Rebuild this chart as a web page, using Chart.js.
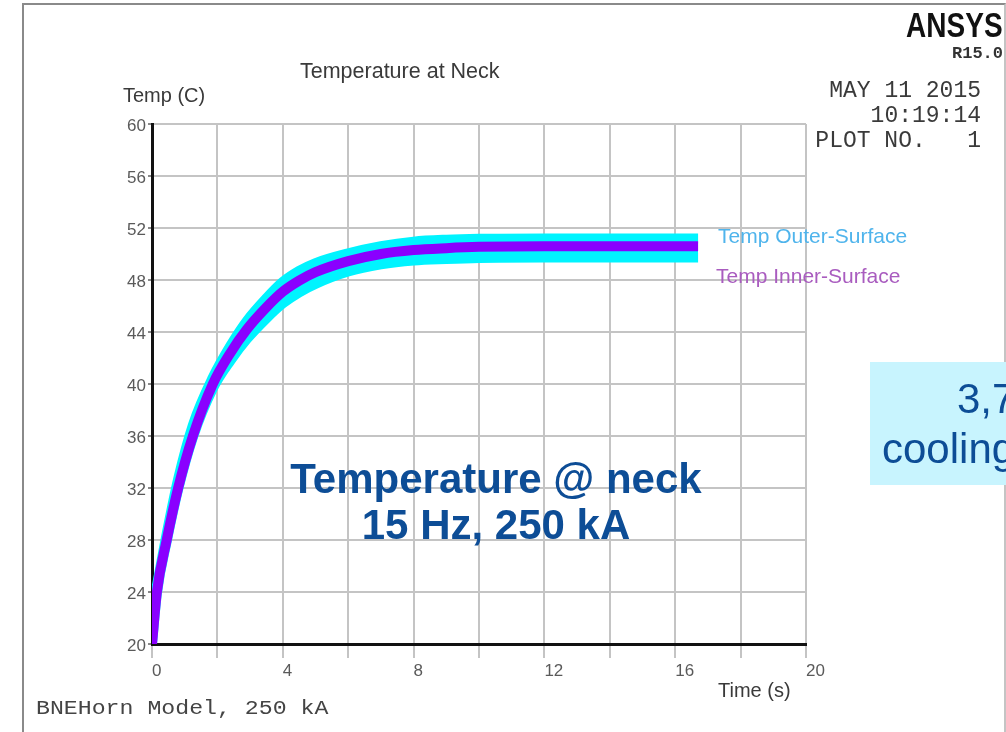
<!DOCTYPE html>
<html>
<head>
<meta charset="utf-8">
<script src="https://cdn.jsdelivr.net/npm/chart.js@4.4.1/dist/chart.umd.min.js"></script>
<style>
html,body{margin:0;padding:0;background:#fff;overflow:hidden;width:1006px;height:732px;}
#wrap{position:relative;width:1006px;height:732px;overflow:hidden;background:#fff;}
#frame{position:absolute;left:22px;top:3px;width:980px;height:800px;border-top:2px solid #8a8a8a;border-left:2px solid #8a8a8a;border-right:2px solid #c4c4c4;}
canvas{position:absolute;left:0;top:0;}
.t{position:absolute;white-space:pre;line-height:1;}
.sans{font-family:'Liberation Sans',Arial,Helvetica,sans-serif;}
.mono{font-family:'Liberation Mono','DejaVu Sans Mono',monospace;}
#box{position:absolute;left:870px;top:362px;width:200px;height:123px;background:#c8f4fe;}
</style>
</head>
<body>
<div id="wrap">
  <div id="frame"></div>
  <div id="box"></div>
  <canvas id="c" width="1006" height="732"></canvas>

  <div class="t sans" style="left:300px;top:61px;font-size:21.5px;color:#3a3a3a;">Temperature at Neck</div>
  <div class="t sans" style="left:123px;top:85px;font-size:20px;color:#3a3a3a;">Temp (C)</div>
  <div class="t sans" style="left:718px;top:680px;font-size:20px;color:#3a3a3a;">Time (s)</div>

  <div class="t sans" style="left:718px;top:225px;font-size:21px;color:#4fb4ec;">Temp Outer-Surface</div>
  <div class="t sans" style="left:716px;top:265px;font-size:21px;color:#a95cbf;">Temp Inner-Surface</div>

  <div class="t sans" style="right:3px;top:7px;font-size:35px;font-weight:bold;color:#111;transform:scaleX(0.8);transform-origin:right top;">ANSYS</div>
  <div class="t mono" style="right:3px;top:45px;font-size:17px;font-weight:bold;color:#333;">R15.0</div>
  <div class="t mono" style="right:25px;top:80px;font-size:23px;color:#3a3a3a;">MAY 11 2015</div>
  <div class="t mono" style="right:25px;top:105px;font-size:23px;color:#3a3a3a;">10:19:14</div>
  <div class="t mono" style="right:25px;top:130px;font-size:23px;color:#3a3a3a;">PLOT NO.   1</div>

  <div class="t mono" style="left:36px;top:699px;font-size:20px;color:#444;transform:scaleX(1.16);transform-origin:left top;">BNEHorn Model, 250 kA</div>

  <div class="sans" style="position:absolute;left:196px;top:456px;width:600px;text-align:center;font-size:42px;line-height:46px;font-weight:bold;color:#0d4d96;">Temperature @ neck<br>15 Hz, 250 kA</div>

  <div class="t sans" style="left:957px;top:378px;font-size:42px;color:#0d4d96;">3,7</div>
  <div class="t sans" style="left:882px;top:428px;font-size:42px;color:#0d4d96;">cooling</div>
</div>

<script>
// ---- data ----
const timeS      = [0, 0.15, 0.45, 0.8, 1.25, 1.86, 2.4, 2.9, 3.5, 4, 4.5, 5, 6, 7, 8, 9, 10, 12, 14, 16.7];
const innerTemp  = [20, 24, 28, 32, 36, 40, 42.4, 44.2, 45.9, 47.1, 47.95, 48.6, 49.45, 50.0, 50.3, 50.45, 50.55, 50.6, 50.6, 50.6];
const outerHigh  = [22.4, 24.5, 28.5, 32.7, 36.85, 40.5, 42.95, 44.85, 46.6, 47.85, 48.7, 49.3, 50.05, 50.6, 50.95, 51.1, 51.17, 51.2, 51.2, 51.2];
const outerLow   = [20, 23.9, 27.9, 31.9, 35.9, 39.65, 41.8, 43.45, 45.05, 46.2, 47.05, 47.7, 48.65, 49.2, 49.5, 49.62, 49.7, 49.73, 49.73, 49.73];
const xGridValues = [0, 2, 4, 6, 8, 10, 12, 14, 16, 18, 20];
const xTickLabels = [0, 4, 8, 12, 16, 20];
const yTickValues = [20, 24, 28, 32, 36, 40, 44, 48, 52, 56, 60];

const pts = arr => timeS.map((t, i) => ({x: t, y: arr[i]}));

Chart.defaults.font.family = "'Liberation Sans', Arial, Helvetica, sans-serif";

const gridColor = '#c4c4c4';
new Chart(document.getElementById('c'), {
  type: 'line',
  data: {
    datasets: [
      {label: 'Temp Outer-Surface (high)', data: pts(outerHigh), borderColor: '#00f4ff', backgroundColor: '#00f4ff',
       borderWidth: 10, pointRadius: 0, fill: false, cubicInterpolationMode: 'monotone', borderCapStyle: 'butt', order: 2},
      {label: 'Temp Outer-Surface (low)', data: pts(outerLow), borderColor: '#00f4ff', backgroundColor: '#00f4ff',
       borderWidth: 10, pointRadius: 0, fill: '-1', cubicInterpolationMode: 'monotone', borderCapStyle: 'butt', order: 1},
      {label: 'Temp Inner-Surface', data: pts(innerTemp), borderColor: '#8a00ff', backgroundColor: '#8a00ff',
       borderWidth: 10, pointRadius: 0, fill: false, cubicInterpolationMode: 'monotone', borderCapStyle: 'butt', order: 0}
    ]
  },
  options: {
    responsive: false,
    devicePixelRatio: 1,
    animation: false,
    events: [],
    layout: {padding: {left: 112, right: 200, top: 124, bottom: 48}},
    plugins: {legend: {display: false}, title: {display: false}, tooltip: {enabled: false}},
    scales: {
      x: {
        type: 'linear', min: 0, max: 20, position: 'bottom',
        afterFit: s => { s.height = 40; },
        afterBuildTicks: s => { s.ticks = xGridValues.map(v => ({value: v})); },
        ticks: {
          autoSkip: false, maxRotation: 0, minRotation: 0, align: 'start', padding: 3,
          color: '#5a5a5a', font: {size: 17},
          callback: v => xTickLabels.includes(v) ? String(v) : ''
        },
        grid: {color: gridColor, lineWidth: 2, drawTicks: true, tickLength: 14, tickColor: gridColor},
        border: {color: '#111', width: 3}
      },
      y: {
        type: 'linear', min: 20, max: 60,
        afterFit: s => { s.width = 40; },
        afterBuildTicks: s => { s.ticks = yTickValues.map(v => ({value: v})); },
        ticks: {color: '#5a5a5a', font: {size: 17}, padding: 2, labelOffset: 2},
        grid: {color: gridColor, lineWidth: 2, drawTicks: true, tickLength: 4, tickColor: '#888'},
        border: {color: '#111', width: 3}
      }
    }
  }
});
</script>
</body>
</html>
